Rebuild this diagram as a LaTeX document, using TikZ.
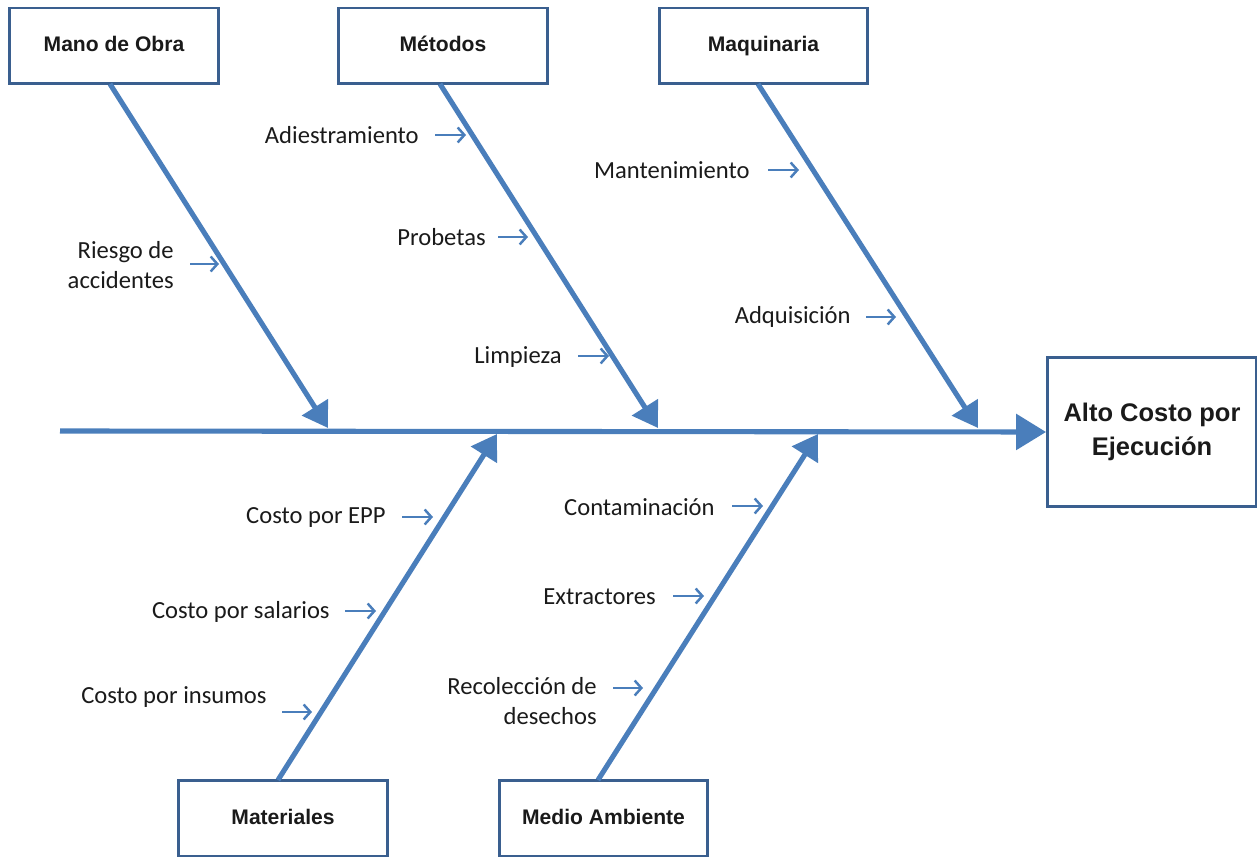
\documentclass[tikz,border=0pt]{standalone}
\usepackage{fontspec}
\setmainfont{Carlito}
\newfontfamily\boxfont{Liberation Sans}
\usetikzlibrary{arrows.meta}
\definecolor{arrowblue}{HTML}{4A7EBB}
\definecolor{boxedge}{HTML}{3A5F8F}
\definecolor{txt}{HTML}{1A1A1A}
\begin{document}
\begin{tikzpicture}[x=0.02cm,y=-0.02cm,
  catbox/.style={draw=boxedge,line width=1.7pt,fill=white,minimum width=4.18cm,minimum height=1.52cm,inner sep=0pt,text height=9pt,text depth=2.6pt,font=\boxfont\bfseries\fontsize{12}{14}\selectfont,text=txt},
  bigbox/.style={draw=boxedge,line width=1.7pt,fill=white,minimum width=4.18cm,minimum height=3.0cm,inner sep=0pt,align=center,font=\boxfont\bfseries\fontsize{14.5}{19}\selectfont,text=txt},
  bone/.style={draw=arrowblue,line width=2.9pt,-{Triangle[length=14pt,width=17pt]}},
  spine/.style={draw=arrowblue,line width=2.9pt,-{Triangle[length=17pt,width=20pt]}},
  cause/.style={font=\fontsize{14}{17.5}\selectfont,text=txt,inner sep=0pt},
  small/.style={draw=arrowblue,line width=1.4pt,-{Straight Barb[length=3.8pt,width=8.5pt,line width=1.4pt]}}
]
\useasboundingbox (0,0) rectangle (1257,857);
% boxes
\node[catbox] (mo) at (114,46) {Mano de Obra};
\node[catbox] (me) at (443,46) {Métodos};
\node[catbox] (ma) at (763.5,46) {Maquinaria};
\node[catbox] (mt) at (283,818.5) {Materiales};
\node[catbox] (ma2) at (603.5,818.5) {Medio Ambiente};
\node[bigbox] (ef) at (1152,432) {Alto Costo por\\Ejecución};
% spine
\coordinate (s0) at (60,431);
\draw[spine] (s0) -- (ef.west);
% bone ends
\coordinate (moA) at (110,84);  \coordinate (moB) at (328,428);
\coordinate (meA) at (440,84);  \coordinate (meB) at (658,428);
\coordinate (maA) at (758,84);  \coordinate (maB) at (978,428);
\coordinate (mtA) at (278,780); \coordinate (mtB) at (497,434);
\coordinate (m2A) at (598,780); \coordinate (m2B) at (818,434);
\draw[bone] (moA) -- (moB);
\draw[bone] (meA) -- (meB);
\draw[bone] (maA) -- (maB);
\draw[bone] (mtA) -- (mtB);
\draw[bone] (m2A) -- (m2B);
% causes
\node[cause,anchor=east,align=right] (c1) at (174,265) {Riesgo de\\accidentes};
\coordinate (c1a) at (190,264); \coordinate (c1b) at (219,264);
\draw[small] (c1a) -- (c1b);
\node[cause,anchor=east] (c2) at (419,135) {Adiestramiento};
\coordinate (c2a) at (435,135); \coordinate (c2b) at (466,135);
\draw[small] (c2a) -- (c2b);
\node[cause,anchor=east] (c3) at (486,237) {Probetas};
\coordinate (c3a) at (498,237); \coordinate (c3b) at (528,237);
\draw[small] (c3a) -- (c3b);
\node[cause,anchor=east] (c4) at (562,357) {Limpieza};
\coordinate (c4a) at (578,356); \coordinate (c4b) at (609,356);
\draw[small] (c4a) -- (c4b);
\node[cause,anchor=east] (c5) at (750,170) {Mantenimiento};
\coordinate (c5a) at (768,170); \coordinate (c5b) at (799,170);
\draw[small] (c5a) -- (c5b);
\node[cause,anchor=east] (c6) at (851,317) {Adquisición};
\coordinate (c6a) at (866,317); \coordinate (c6b) at (896,317);
\draw[small] (c6a) -- (c6b);
\node[cause,anchor=east] (c7) at (386,518) {Costo por EPP};
\coordinate (c7a) at (402,517); \coordinate (c7b) at (433,517);
\draw[small] (c7a) -- (c7b);
\node[cause,anchor=east] (c8) at (330,612) {Costo por salarios};
\coordinate (c8a) at (345,611); \coordinate (c8b) at (376,611);
\draw[small] (c8a) -- (c8b);
\node[cause,anchor=east] (c9) at (267,697) {Costo por insumos};
\coordinate (c9a) at (282,712); \coordinate (c9b) at (312,712);
\draw[small] (c9a) -- (c9b);
\node[cause,anchor=east] (c10) at (715,507) {Contaminación};
\coordinate (c10a) at (732,506); \coordinate (c10b) at (763,506);
\draw[small] (c10a) -- (c10b);
\node[cause,anchor=east] (c11) at (656,597) {Extractores};
\coordinate (c11a) at (673,596); \coordinate (c11b) at (704,596);
\draw[small] (c11a) -- (c11b);
\node[cause,anchor=east,align=right] (c12) at (597,701) {Recolección de\\desechos};
\coordinate (c12a) at (613,688); \coordinate (c12b) at (643,688);
\draw[small] (c12a) -- (c12b);
\end{tikzpicture}
\end{document}
